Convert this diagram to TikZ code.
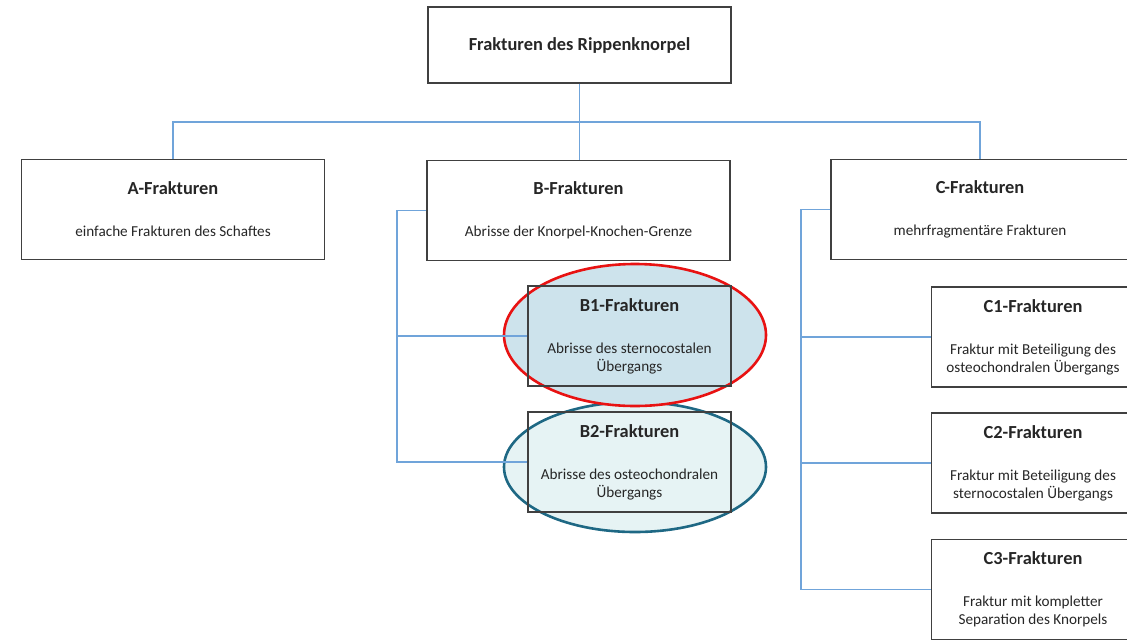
\documentclass[tikz,border=0pt]{standalone}
\usepackage{fontspec}
\setmainfont{Carlito}
\usetikzlibrary{shapes.geometric}
\definecolor{linkblue}{RGB}{112,164,218}
\definecolor{boxgray}{RGB}{64,64,64}
\definecolor{ringred}{RGB}{232,18,18}
\definecolor{ringteal}{RGB}{30,104,132}
\definecolor{fillone}{RGB}{205,227,236}
\definecolor{filltwo}{RGB}{230,243,244}
\newcommand{\titel}[1]{{\fontsize{18.4}{18}\selectfont\bfseries #1}}
\begin{document}
\begin{tikzpicture}[x=1pt, y=-1pt,
    every node/.style={align=center, font=\fontsize{15.2}{18}\selectfont, text=black!85},
    fracbox/.style={draw=boxgray, line width=1.2pt, minimum width=303pt, minimum height=100pt, inner sep=0pt},
    subbox/.style={fracbox, minimum width=203pt},
    link/.style={draw=linkblue, line width=1.3pt},
    ring/.style={ellipse, line width=2.6pt, minimum width=262pt, inner sep=0pt},
    ]
\useasboundingbox (0,0) rectangle (1127,640);
\node[ring, draw=ringteal, fill=filltwo, minimum height=130pt] (ringB2) at (635,467) {};
\node[ring, draw=ringred, fill=fillone, minimum height=142pt] (ringB1) at (635,335) {};
\node[fracbox, minimum height=76pt] (root) at (579.5,45) {\titel{Frakturen des Rippenknorpel}};
\node[fracbox] (A) at (173,209.5) {\titel{A-Frakturen}\\[24pt] einfache Frakturen des Schaftes};
\node[fracbox] (B) at (578.5,210.5) {\titel{B-Frakturen}\\[24pt] Abrisse der Knorpel-Knochen-Grenze};
\node[fracbox, minimum width=298pt] (C) at (980,209.5) {\titel{C-Frakturen}\\[24pt] mehrfragmentäre Frakturen};
\node[subbox] (B1) at (629.5,336) {\titel{B1-Frakturen}\\[24pt] Abrisse des sternocostalen\\Übergangs};
\node[subbox] (B2) at (629.5,462) {\titel{B2-Frakturen}\\[24pt] Abrisse des osteochondralen\\Übergangs};
\node[subbox] (C1) at (1033,337) {\titel{C1-Frakturen}\\[24pt] Fraktur mit Beteiligung des\\osteochondralen Übergangs};
\node[subbox] (C2) at (1033,463) {\titel{C2-Frakturen}\\[24pt] Fraktur mit Beteiligung des\\sternocostalen Übergangs};
\node[subbox] (C3) at (1033,589.5) {\titel{C3-Frakturen}\\[24pt] Fraktur mit kompletter\\Separation des Knorpels};
\coordinate (bus) at (579,122);
\coordinate (Bspine) at (397,0);
\coordinate (Cspine) at (801,0);
\draw[link] (root.south) -- (root.south |- B.north);
\draw[link] (A.north) |- (bus) -| (C.north);
\draw[link] (B.west) -- (B.west -| Bspine) |- (B2.west);
\draw[link] (Bspine |- B1.west) -- (B1.west);
\draw[link] (C.west) -- (C.west -| Cspine) |- (C3.west);
\draw[link] (Cspine |- C1.west) -- (C1.west);
\draw[link] (Cspine |- C2.west) -- (C2.west);
\end{tikzpicture}
\end{document}
